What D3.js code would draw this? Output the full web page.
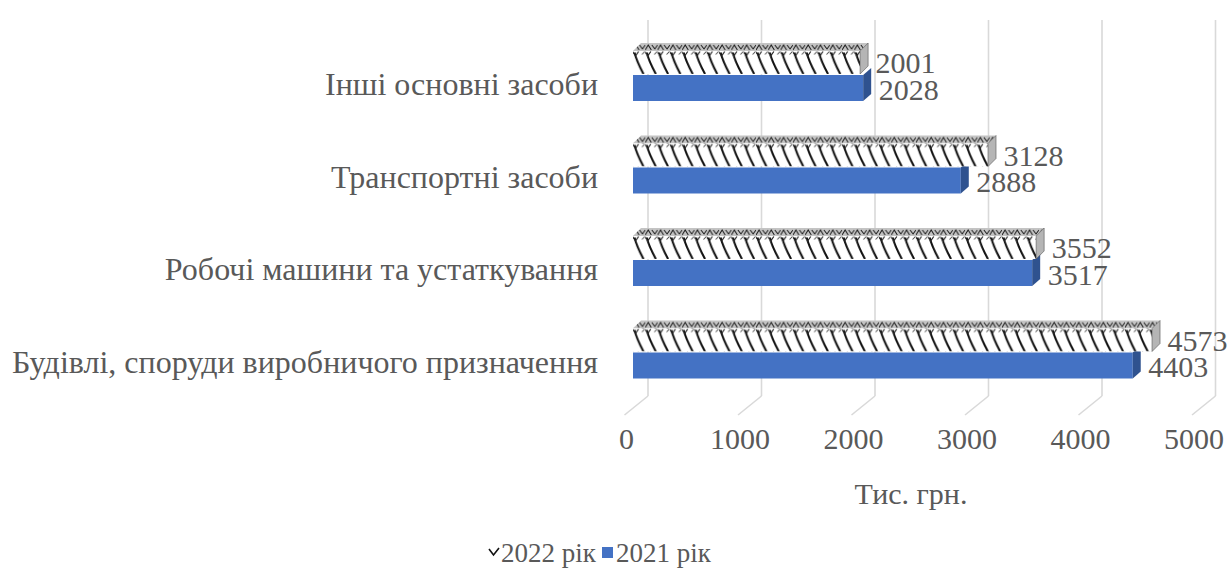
<html>
<head>
<meta charset="utf-8">
<script src="https://cdn.jsdelivr.net/npm/d3@7"></script>
</head>
<body style="margin:0">
<svg id="chart" width="1232" height="581"></svg>
<script>
// Fixed assets by group, thousand UAH
const categories = [
  "Інші основні засоби",
  "Транспортні засоби",
  "Робочі машини та устаткування",
  "Будівлі, споруди виробничого призначення"
];
const values2022 = [2001, 3128, 3552, 4573];
const values2021 = [2028, 2888, 3517, 4403];
const tickValues = [0, 1000, 2000, 3000, 4000, 5000];
const seriesNames = ["2022 рік", "2021 рік"];
const axisTitle = "Тис. грн.";

const TEXT = "#595959";
const svg = d3.select("#chart");

// bars sit in front of the back wall; the floor recedes toward it
const xBar = d3.scaleLinear().domain([0, 5000]).range([633, 633 + 567.5]);
const wallShift = 15;
const frontShift = -8.5;
const depthX = 8, depthY = 7;

const y = d3.scaleBand().domain(categories).range([28.5, 398.5]);
const blueTop = d => y(d) + 46.5;
const blueH = 26;
const patH = 23;

const blue = "#4472C4", blueSide = "#2F528F";

function label(sel, size) {
  return sel.style("font-family", '"Liberation Serif", Tinos, "Times New Roman", Times')
    .attr("fill", TEXT).attr("font-size", size);
}

// fill patterns for the 2022 series
const defs = svg.append("defs");
categories.forEach((c, i) => {
  const top = blueTop(c) - 1 - patH;
  const p = defs.append("pattern")
    .attr("id", "pf" + i)
    .attr("patternUnits", "userSpaceOnUse")
    .attr("width", 12.3).attr("height", patH)
    .attr("x", 633).attr("y", top);
  p.append("rect").attr("width", 12.3).attr("height", patH).attr("fill", "#ffffff");
  p.append("path").attr("d", "M1.5,1.5 Q3.5,10 10.5," + patH)
    .attr("fill", "none").attr("stroke", "#111").attr("stroke-width", 2);
  p.append("path").attr("d", "M-0.5,0.5 L2.5,5 L5.5,0.5")
    .attr("fill", "none").attr("stroke", "#222").attr("stroke-width", 1.2);
  p.append("path").attr("d", "M11.8,0.5 L9,3.5")
    .attr("fill", "none").attr("stroke", "#444").attr("stroke-width", 1);

  const t = defs.append("pattern")
    .attr("id", "pt" + i)
    .attr("patternUnits", "userSpaceOnUse")
    .attr("width", 12.3).attr("height", depthY + 1)
    .attr("x", 633).attr("y", top - depthY - 1);
  t.append("rect").attr("width", 12.3).attr("height", depthY + 1).attr("fill", "#c4c4c4");
  t.append("path").attr("d", "M0,7 L3,2 L6,7 M6.5,2 L9.5,6 L12.3,2")
    .attr("fill", "none").attr("stroke", "#1a1a1a").attr("stroke-width", 1);
});

// back wall gridlines and floor lines
const gridTop = 20, gridBottom = 396;
const grid = svg.append("g");
tickValues.forEach(v => {
  const xw = xBar(v) + wallShift;
  grid.append("line").attr("x1", xw).attr("x2", xw).attr("y1", gridTop).attr("y2", gridBottom)
    .attr("stroke", "#d9d9d9").attr("stroke-width", 1.6);
  grid.append("line").attr("x1", xw).attr("y1", gridBottom)
    .attr("x2", xBar(v) + frontShift).attr("y2", gridBottom + 19)
    .attr("stroke", "#d9d9d9").attr("stroke-width", 1.6);
});

// bars
const bars = svg.append("g");
categories.forEach((c, i) => {
  const bt = blueTop(c);
  const x0 = xBar(0);
  // 2021 series
  const x1 = xBar(values2021[i]);
  bars.append("rect").attr("x", x0).attr("y", bt).attr("width", x1 - x0).attr("height", blueH).attr("fill", blue);
  bars.append("path")
    .attr("d", `M${x1},${bt} L${x1 + depthX},${bt - depthY} L${x1 + depthX},${bt + blueH - depthY} L${x1},${bt + blueH} Z`)
    .attr("fill", blueSide);

  // 2022 series
  const pt = bt - 1 - patH;
  const x2 = xBar(values2022[i]);
  bars.append("path")
    .attr("d", `M${x0},${pt} L${x0 + depthX},${pt - depthY - 1} L${x2 + depthX},${pt - depthY - 1} L${x2},${pt} Z`)
    .attr("fill", `url(#pt${i})`);
  bars.append("rect").attr("x", x0).attr("y", pt).attr("width", x2 - x0).attr("height", patH)
    .attr("fill", `url(#pf${i})`);
  bars.append("path")
    .attr("d", `M${x2},${pt} L${x2 + depthX},${pt - depthY - 1} L${x2 + depthX},${pt + patH - depthY - 1} L${x2},${pt + patH} Z`)
    .attr("fill", "#b5b5b5").attr("stroke", "#555").attr("stroke-width", 0.6);

  // value labels
  label(bars.append("text"), 30).attr("x", x2 + 15.5).attr("y", bt - 2)
    .text(values2022[i]);
  label(bars.append("text"), 30).attr("x", x1 + 15.5).attr("y", bt + 24.5)
    .text(values2021[i]);
});

// category labels
label(svg.append("g").selectAll("text").data(categories).join("text"), 32)
  .attr("x", 598).attr("y", d => blueTop(d) + 20)
  .attr("text-anchor", "end")
  .text(d => d);

// value axis along the front edge of the floor
const xFront = xBar.copy().range(xBar.range().map(r => r - 7));
const axis = svg.append("g").attr("transform", "translate(0,428)")
  .call(d3.axisBottom(xFront).tickValues(tickValues).tickSize(0).tickPadding(0).tickFormat(d3.format("d")));
axis.select(".domain").remove();
label(axis.selectAll("text"), 30).attr("dy", "0.71em");

label(svg.append("text"), 30).attr("x", 911).attr("y", 504).attr("text-anchor", "middle")
  .text(axisTitle);

// legend
const legend = svg.append("g");
legend.append("path").attr("d", "M489,549 L493.5,555 L499,548")
  .attr("fill", "none").attr("stroke", "#111").attr("stroke-width", 1.6);
label(legend.append("text"), 27).attr("x", 501).attr("y", 562)
  .text(seriesNames[0]);
legend.append("rect").attr("x", 602).attr("y", 547).attr("width", 11).attr("height", 11).attr("fill", blue);
label(legend.append("text"), 27).attr("x", 616).attr("y", 562)
  .text(seriesNames[1]);
</script>
</body>
</html>
